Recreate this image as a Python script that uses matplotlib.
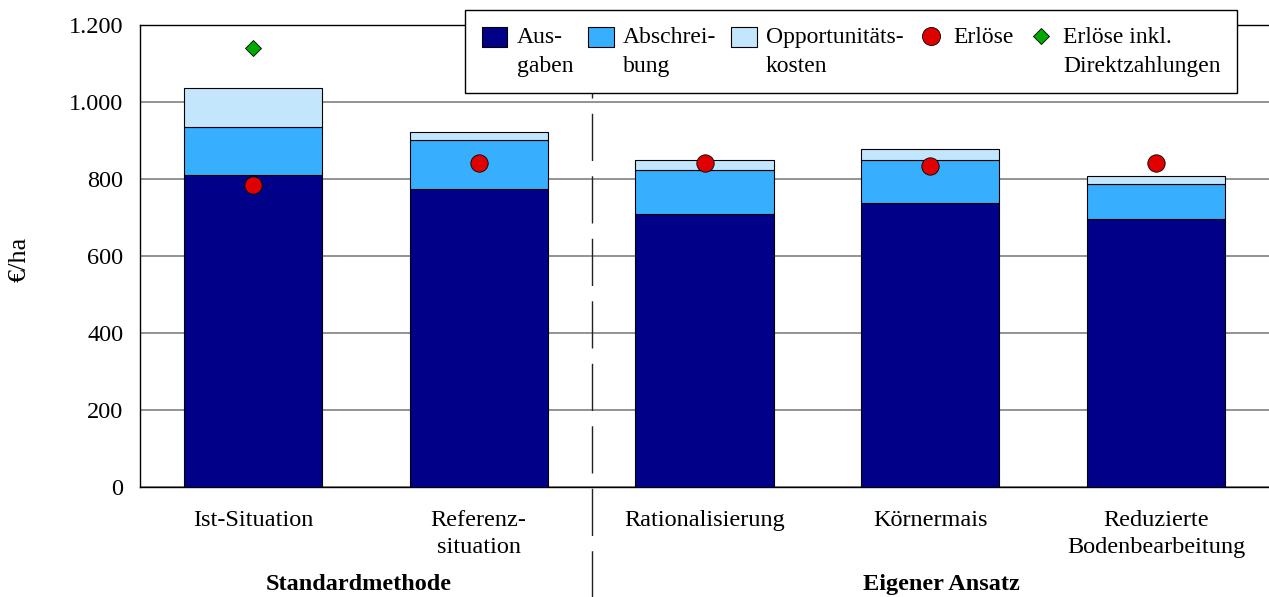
import matplotlib.pyplot as plt
from matplotlib.patches import Patch
from matplotlib.lines import Line2D
from matplotlib.ticker import FuncFormatter

plt.rcParams["font.family"] = ["Liberation Serif", "DejaVu Serif"]

# Daten (€/ha)
szenarien = [
    "Ist-Situation",
    "Referenz-\nsituation",
    "Rationalisierung",
    "Körnermais",
    "Reduzierte\nBodenbearbeitung",
]
ausgaben = [810, 775, 710, 739, 697]
abschreibung = [127, 126, 114, 112, 90]
opportunitaet = [99, 21, 27, 28, 21]
erloese = [785, 842, 842, 834, 842]
erloese_dz = [1142, None, None, None, None]
gruppen = ["Standardmethode", "Eigener Ansatz"]

c_aus = "#000088"
c_abs = "#38aefe"
c_opp = "#c4e6fd"
c_erl = "#e00000"
c_dz = "#00aa00"
fs = 17.5

fig = plt.figure(figsize=(12.69, 5.97), dpi=100)
ax = fig.add_axes([140 / 1269, 1 - 487.3 / 597, 1129 / 1269, 462 / 597])

x = list(range(len(szenarien)))
b1 = [a + b for a, b in zip(ausgaben, abschreibung)]
ax.bar(x, ausgaben, width=0.612, color=c_aus, edgecolor="black", lw=0.8, zorder=3)
ax.bar(x, abschreibung, width=0.612, bottom=ausgaben, color=c_abs,
       edgecolor="black", lw=0.8, zorder=3)
ax.bar(x, opportunitaet, width=0.612, bottom=b1, color=c_opp,
       edgecolor="black", lw=0.8, zorder=3)

ax.plot(x, erloese, ls="none", marker="o", ms=12.5, mfc=c_erl, mec="black",
        mew=0.6, zorder=5)
dz_x = [i for i, v in zip(x, erloese_dz) if v is not None]
dz_y = [v for v in erloese_dz if v is not None]
ax.plot(dz_x, dz_y, ls="none", marker="D", ms=8, mfc=c_dz, mec="black",
        mew=0.6, zorder=5)

ax.set_xlim(-0.5, 4.5)
ax.set_ylim(0, 1200)
ax.set_yticks(range(0, 1201, 200))
ax.yaxis.set_major_formatter(FuncFormatter(lambda v, p: f"{int(v):,}".replace(",", ".")))
ax.set_xticks(x)
ax.set_xticklabels(szenarien)
ax.tick_params(axis="both", length=0, labelsize=fs)
ax.tick_params(axis="y", pad=12)
ax.tick_params(axis="x", pad=16)
for t in ax.get_xticklabels():
    t.set_linespacing(1.4)
ax.grid(axis="y", color="#808080", lw=1.2, zorder=0)
ax.spines["right"].set_visible(False)
for s in ["left", "bottom", "top"]:
    ax.spines[s].set_color("black")
    ax.spines[s].set_linewidth(1.0)

# Trennlinie zwischen den Gruppen
ax.plot([1.5, 1.5], [-0.24, 1.0], transform=ax.get_xaxis_transform(),
        color="#222222", lw=1.0, dashes=(34, 11), clip_on=False, zorder=2)

ax.text(0.47, -0.21, gruppen[0], transform=ax.get_xaxis_transform(),
        ha="center", va="center", fontsize=fs, fontweight="bold")
ax.text(3.05, -0.21, gruppen[1], transform=ax.get_xaxis_transform(),
        ha="center", va="center", fontsize=fs, fontweight="bold")

fig.text(20 / 1269, 1 - 259 / 597, "€/ha", rotation=90, ha="center",
         va="center", fontsize=19)

handles = [
    Patch(facecolor=c_aus, edgecolor="black", lw=0.8),
    Patch(facecolor=c_abs, edgecolor="black", lw=0.8),
    Patch(facecolor=c_opp, edgecolor="black", lw=0.8),
    Line2D([], [], ls="none", marker="o", ms=13, mfc=c_erl, mec="black", mew=0.6),
    Line2D([], [], ls="none", marker="D", ms=8, mfc=c_dz, mec="black", mew=0.6),
]
labels = ["Aus-\ngaben", "Abschrei-\nbung", "Opportunitäts-\nkosten", "Erlöse",
          "Erlöse inkl.\nDirektzahlungen"]
leg = fig.legend(handles, labels, ncol=5, loc="upper left",
                 bbox_to_anchor=(465 / 1269, 1 - 10 / 597), fontsize=17,
                 handlelength=1.1, handleheight=0.95, handletextpad=0.4,
                 columnspacing=0.6, borderpad=0.7, borderaxespad=0,
                 fancybox=False, framealpha=1, edgecolor="black")
leg.get_frame().set_linewidth(1.0)
leg.set_zorder(10)
for t in leg.get_texts():
    t.set_linespacing(1.5)
leg._legend_handle_box.align = "top"
for col in leg._legend_handle_box.get_children():
    col.align = "top"
    for entry in col.get_children():
        entry.align = "top"

fig.savefig("out.png", dpi=100)
